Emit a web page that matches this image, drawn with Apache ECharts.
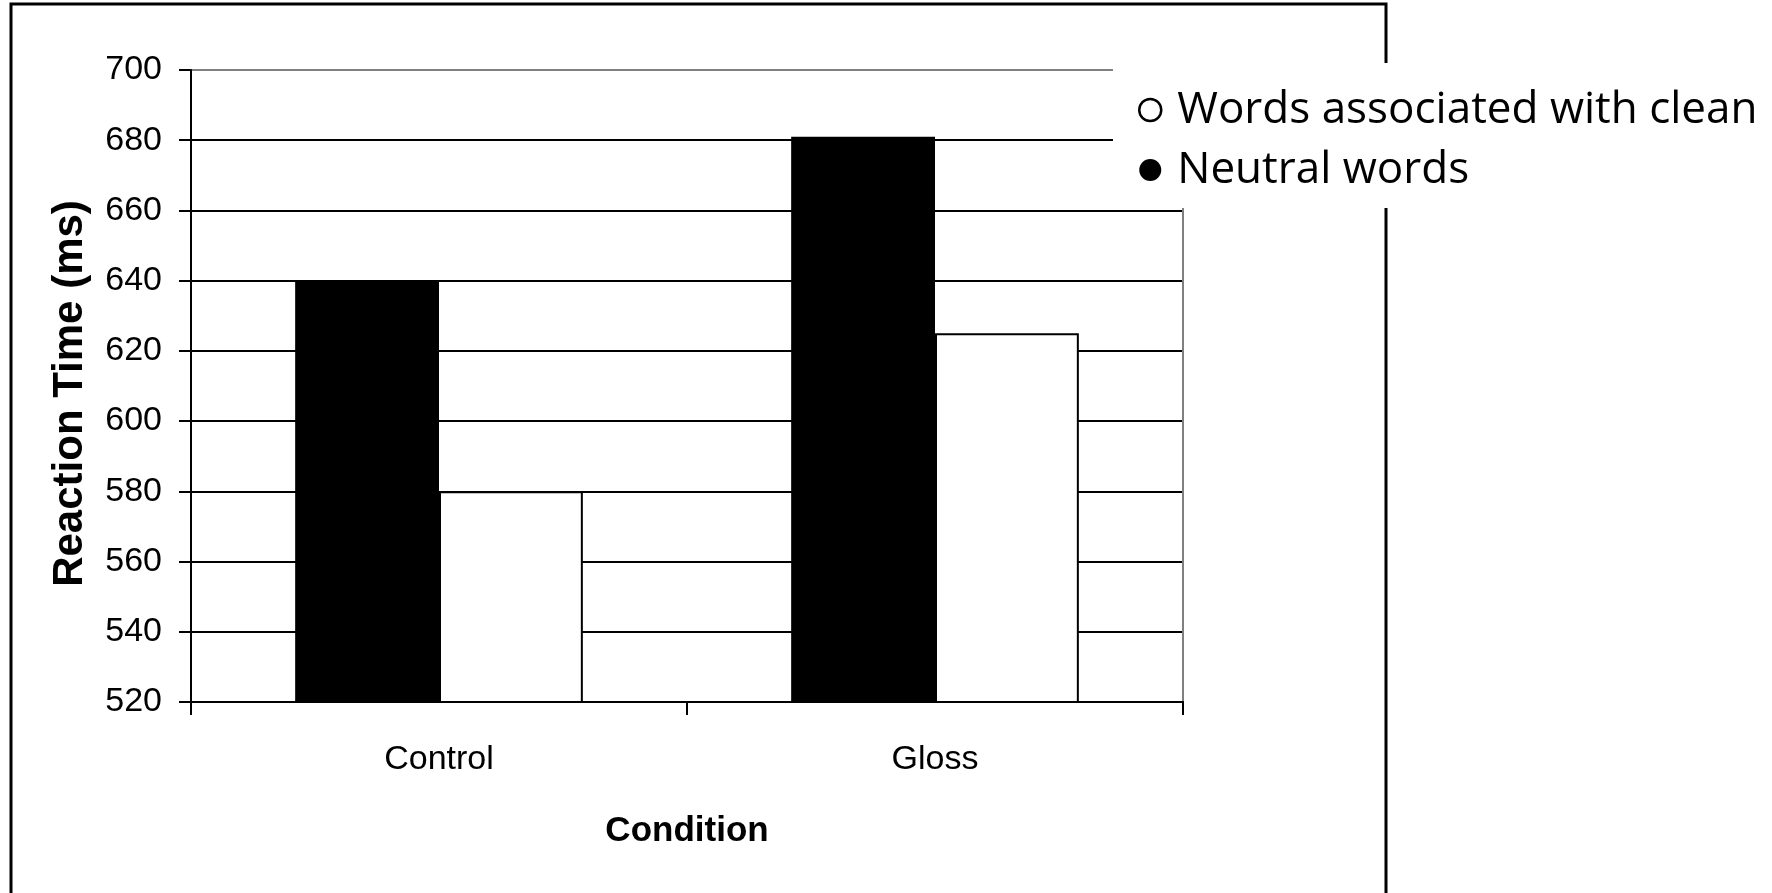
<!DOCTYPE html>
<html>

<head>
  <meta charset="utf-8">
  <title>Reaction Time by Condition</title>
  <script type="text/javascript" src="https://cdn.jsdelivr.net/npm/echarts@6.0.0/dist/echarts.min.js"></script>
  <style>
    html,body {
      margin: 0;
      padding: 0;
      background: #fff;
    }
  </style>
</head>

<body>
  <div id="main" style="width: 1772px;height:893px;"></div>
  <script>
    // data
    var categories = ['Control', 'Gloss'];
    var neutralWords = [640, 681];
    var cleanWords = [580, 625];
    var yMin = 520, yMax = 700, yStep = 20;

    var arial = "'Liberation Sans', Arial, sans-serif";

    // last split line (the 700 one) is grey
    var splitColors = [];
    for (var i = yMin; i <= yMax; i += yStep) {
      splitColors.push(i === yMax ? '#808080' : '#000');
    }

    var chart = echarts.init(document.getElementById('main'));
    var option = {
      animation: false,
      backgroundColor: '#fff',
      graphic: [{
        type: 'rect',
        z: -10,
        shape: { x: 11, y: 4, width: 1375, height: 960 },
        style: { fill: 'none', stroke: '#000', lineWidth: 3 }
      }],
      grid: {
        left: 191,
        top: 70,
        right: 589,
        bottom: 191,
        containLabel: false,
        outerBoundsMode: 'none'
      },
      legend: {
        orient: 'vertical',
        left: 1113,
        top: 63,
        padding: [25, 10, 16, 25],
        backgroundColor: '#fff',
        z: 10,
        itemGap: 16,
        itemWidth: 44,
        itemHeight: 22,
        selectedMode: false,
        textStyle: {
          fontFamily: "'Open Sans', sans-serif",
          fontSize: 44,
          color: '#000'
        },
        data: [
          { name: 'Words associated with clean', icon: 'circle',
            itemStyle: { color: '#fff', borderColor: '#000', borderWidth: 2.5 } },
          { name: 'Neutral words', icon: 'circle',
            itemStyle: { color: '#000', borderWidth: 0 } }
        ]
      },
      xAxis: {
        type: 'category',
        data: categories,
        name: 'Condition',
        nameLocation: 'middle',
        nameGap: 112,
        nameTextStyle: {
          fontFamily: arial,
          fontWeight: 'bold',
          fontSize: 35,
          color: '#000'
        },
        axisLine: { lineStyle: { color: '#000', width: 2 } },
        axisTick: { show: true, inside: false, length: 13, lineStyle: { color: '#000', width: 2 } },
        axisLabel: {
          margin: 41,
          fontFamily: arial,
          fontSize: 34,
          color: '#000'
        }
      },
      yAxis: [{
        type: 'value',
        min: yMin,
        max: yMax,
        interval: yStep,
        name: 'Reaction Time (ms)',
        nameLocation: 'middle',
        nameGap: 100,
        nameTextStyle: {
          fontFamily: arial,
          fontWeight: 'bold',
          fontSize: 42,
          color: '#000',
          padding: [0, 15, 0, 0]
        },
        axisLine: { show: true, lineStyle: { color: '#000', width: 2 } },
        axisTick: { show: true, length: 12, lineStyle: { color: '#000', width: 2 } },
        axisLabel: {
          margin: 29,
          fontFamily: arial,
          fontSize: 34,
          color: '#000'
        },
        splitLine: { show: true, lineStyle: { color: splitColors, width: 2 } }
      }, {
        type: 'value',
        position: 'right',
        min: yMin,
        max: yMax,
        interval: yStep,
        axisLine: { show: true, lineStyle: { color: '#808080', width: 2 } },
        axisTick: { show: false },
        axisLabel: { show: false },
        splitLine: { show: false }
      }],
      series: [{
        name: 'Neutral words',
        type: 'bar',
        data: neutralWords,
        barGap: '0%',
        barCategoryGap: '42%',
        itemStyle: { color: '#000', borderColor: '#000', borderWidth: 0 }
      }, {
        name: 'Words associated with clean',
        type: 'bar',
        data: cleanWords,
        itemStyle: { color: '#fff', borderColor: '#000', borderWidth: 2 }
      }]
    };
    chart.setOption(option);
  </script>
</body>

</html>
